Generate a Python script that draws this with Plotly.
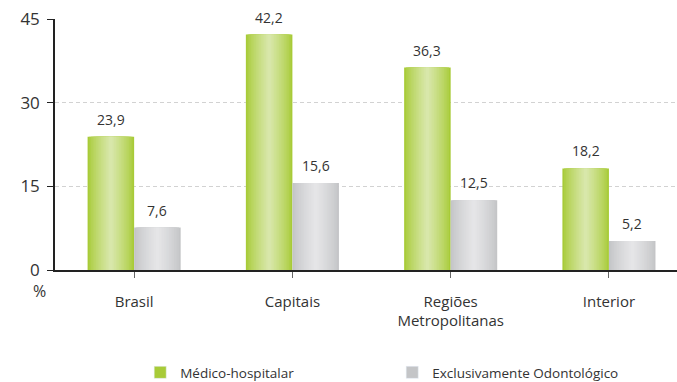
import plotly.graph_objects as go

# Data
categorias = ["Brasil", "Capitais", "Regiões<br>Metropolitanas", "Interior"]
medico_hospitalar = [23.9, 42.2, 36.3, 18.2]
exclusivamente_odonto = [7.6, 15.6, 12.5, 5.2]
y_ticks = [0, 15, 30, 45]

series = [
    ("Médico-hospitalar", medico_hospitalar, (168, 203, 56), (216, 231, 170), -0.294),
    ("Exclusivamente Odontológico", exclusivamente_odonto, (196, 197, 199), (229, 229, 231), 0.0),
]

BAR_W = 0.294
LAYERS = 14
FONT = "Open Sans, Lato, sans-serif"
TXT = "#333333"


def mix(c1, c2, t):
    return "rgb(%d,%d,%d)" % tuple(round(a + (b - a) * t) for a, b in zip(c1, c2))


fig = go.Figure()
xs = list(range(len(categorias)))

# Each bar is drawn as stacked-width overlays, narrowing toward the centre
# to give the cylindrical horizontal gradient.
for name, vals, edge, centre, off in series:
    for i in range(LAYERS):
        t = i / (LAYERS - 1)
        w = BAR_W * (1 - i / LAYERS)
        fig.add_trace(go.Bar(
            x=xs, y=vals,
            width=[w] * len(xs),
            offset=[off + (BAR_W - w) / 2] * len(xs),
            marker=dict(color=mix(edge, centre, t ** 0.8), line=dict(width=0)),
            showlegend=False, hoverinfo="skip",
        ))
    # value labels
    for x, v in zip(xs, vals):
        fig.add_annotation(
            x=x + off + BAR_W / 2, y=v, text=f"{v:.1f}".replace(".", ","),
            showarrow=False, yanchor="bottom", yshift=6,
            font=dict(family=FONT, size=14, color=TXT),
        )
    # legend entry
    fig.add_trace(go.Bar(
        x=[None], y=[None], name=name,
        marker=dict(color=mix(edge, edge, 0)),
    ))

fig.update_layout(
    width=677, height=382,
    margin=dict(l=55, r=0, t=19, b=112, autoexpand=False),
    barmode="overlay",
    plot_bgcolor="white", paper_bgcolor="white",
    font=dict(family=FONT, color=TXT),
    showlegend=True,
    legend=dict(
        orientation="h", x=0.137, xanchor="left", y=-0.347, yanchor="top",
        font=dict(family=FONT, size=13.5, color=TXT),
        itemwidth=30, entrywidth=207, traceorder="normal",
    ),
    xaxis=dict(
        tickmode="array", tickvals=xs, ticktext=categorias,
        range=[-0.5, 3.43], showgrid=False, zeroline=False,
        showline=True, linecolor="#222222", linewidth=1.5,
        ticks="outside", tickson="boundaries", ticklen=6, tickcolor="#666666",
        tickfont=dict(family=FONT, size=15, color=TXT),
        ticklabelstandoff=11, automargin=False,
    ),
    yaxis=dict(
        range=[0, 45], tickvals=y_ticks, showgrid=True,
        gridcolor="#d2d2d2", griddash="4px,3px", gridwidth=1,
        zeroline=False, showline=True, linecolor="#222222", linewidth=1.5,
        ticks="outside", ticklen=6, tickcolor="#222222",
        tickfont=dict(family=FONT, size=17, color=TXT),
        ticklabelstandoff=4, automargin=False,
    ),
)

fig.add_annotation(
    xref="paper", yref="paper", x=-0.012, y=-0.085, text="%",
    showarrow=False, xanchor="right", yanchor="middle",
    font=dict(family=FONT, size=16, color=TXT),
)

fig.write_html("out.html")
